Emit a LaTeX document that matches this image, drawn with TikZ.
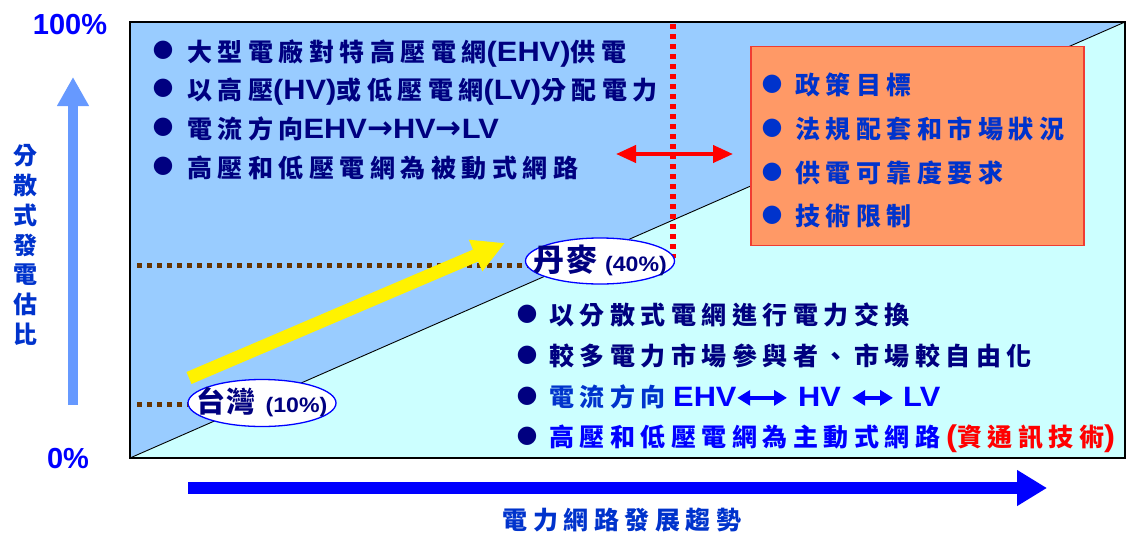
\documentclass[tikz,border=0pt]{standalone}
\usepackage{fontspec}
\usetikzlibrary{arrows.meta,shapes.geometric}
\newfontfamily\cjk{Noto Sans CJK TC}[LetterSpace=22]
\newfontfamily\cjkp{Noto Sans CJK TC}
\newfontfamily\lat{Liberation Sans}
\newfontfamily\latw{Liberation Sans}[FakeStretch=1.1]
\newfontfamily\sym{DejaVu Sans}
\newcommand\fs[1]{\fontsize{#1}{#1}\selectfont}
\definecolor{upfill}{RGB}{153,204,255}
\definecolor{lowfill}{RGB}{204,255,255}
\definecolor{orangefill}{RGB}{255,153,102}
\definecolor{orangeedge}{RGB}{240,60,50}
\definecolor{navytxt}{RGB}{0,0,128}
\definecolor{midblue}{RGB}{0,51,204}
\definecolor{pureblue}{RGB}{0,0,255}
\definecolor{axisarrow}{RGB}{102,153,255}
\definecolor{browndot}{RGB}{102,51,0}
\definecolor{redline}{RGB}{255,0,0}
\tikzset{
  bul/.style={inner sep=0pt, font=\sym\fs{24}},
  txtline/.style={anchor=base west, inner sep=0pt, font=\cjk\bfseries\fs{25}},
  lat/.style={anchor=base west, inner sep=0pt, font=\latw\bfseries\fs{28}},
  ell/.style={ellipse, draw=pureblue, line width=1.3pt, fill=white, inner sep=0pt},
  elltext/.style={inner sep=0pt, text=navytxt},
  brownline/.style={draw=browndot, line width=5pt, dash pattern=on 5pt off 5pt},
  reddots/.style={draw=redline, line width=5.5pt, dash pattern=on 5pt off 5pt},
  dblarrow/.style={draw=pureblue, line width=3.5pt, {Triangle[length=13pt,width=15pt]}-{Triangle[length=13pt,width=15pt]}},
}
\newcommand\Lt[1]{{\latw\fs{28}#1}}
\begin{document}
\begin{tikzpicture}[x=1pt,y=-1pt]
\useasboundingbox (0,0) rectangle (1134,538);
% main box
\coordinate (bl) at (130,458);
\coordinate (tl) at (130,22);
\coordinate (tr) at (1125,22);
\coordinate (br) at (1125,458);
\fill[upfill] (bl) -- (tl) -- (tr) -- cycle;
\fill[lowfill] (bl) -- (tr) -- (br) -- cycle;
\draw[black, line width=0.9pt] (bl) -- (tr);
\draw[black, line width=1.4pt] (bl) rectangle (tr);
% orange box
\node[draw=orangeedge, fill=orangefill, line width=1.2pt, minimum width=333pt, minimum height=199pt, inner sep=0pt] (ob) at (917.5,146) {};
% red dotted vertical and red double arrow
\coordinate (rdtop) at (673,24);
\coordinate (rdbot) at (673,258);
\draw[reddots] (rdtop) -- (rdbot);
\coordinate (ra) at (616,154);
\coordinate (rb) at (733,154);
\draw[redline, line width=4pt, {Triangle[length=20pt,width=17pt]}-{Triangle[length=20pt,width=17pt]}] (ra) -- (rb);
% brown dotted lines
\coordinate (bd1a) at (137,265);
\coordinate (bd1b) at (530,265);
\coordinate (bd2a) at (137,404);
\coordinate (bd2b) at (192,404);
\draw[brownline] (bd1a) -- (bd1b);
\draw[brownline] (bd2a) -- (bd2b);
% yellow arrow
\coordinate (ya) at (189,378);
\coordinate (yb) at (505,243);
\draw[yellow, line width=13pt, -{Triangle[length=32pt,width=32pt]}] (ya) -- (yb);
% ellipses
\node[ell, minimum width=149pt, minimum height=46pt] (dk) at (600,261) {};
\node[elltext] (dkt) at ([yshift=1pt]dk.center) {{\cjkp\bfseries\fs{31}丹\hspace{2pt}麥}\hspace{8pt}{\latw\bfseries\fs{21}(40\%)}};
\node[ell, minimum width=148pt, minimum height=47pt] (tw) at (262,403) {};
\node[elltext] (twt) at ([yshift=1pt]tw.center) {{\cjkp\bfseries\fs{29}台\hspace{1pt}灣}\hspace{10pt}{\latw\bfseries\fs{21}(10\%)}};
% top-left list
\node[bul, text=navytxt] (b1) at (163,50) {●};
\node[bul, text=navytxt] (b2) at (163,88) {●};
\node[bul, text=navytxt] (b3) at (163,127) {●};
\node[bul, text=navytxt] (b4) at (163,166) {●};
\node[txtline, text=navytxt] (t1) at (187,61.5) {大型電廠對特高壓電網\Lt{(EHV)}供電};
\node[txtline, text=navytxt] (t2) at (187,99.5) {以高壓\Lt{(HV)}或低壓電網\Lt{(LV)}分配電力};
\node[txtline, text=navytxt] (t3) at (187,138.5) {電流方向\Lt{EHV{\sym\fs{31}→}HV{\sym\fs{31}→}LV}};
\node[txtline, text=navytxt] (t4) at (187,177.5) {高壓和低壓電網為被動式網路};
% orange box list
\node[bul, text=midblue] (o1b) at (772,84) {●};
\node[bul, text=midblue] (o2b) at (772,128) {●};
\node[bul, text=midblue] (o3b) at (772,172) {●};
\node[bul, text=midblue] (o4b) at (772,215) {●};
\node[txtline, text=midblue] (o1) at (795,94.5) {政策目標};
\node[txtline, text=midblue] (o2) at (795,138.5) {法規配套和市場狀況};
\node[txtline, text=midblue] (o3) at (795,182.5) {供電可靠度要求};
\node[txtline, text=midblue] (o4) at (795,225.5) {技術限制};
% lower-right list
\node[bul, text=navytxt] (l1b) at (527,314) {●};
\node[bul, text=navytxt] (l2b) at (527,355) {●};
\node[bul, text=navytxt] (l3b) at (527,396) {●};
\node[bul, text=navytxt] (l4b) at (527,436) {●};
\node[txtline, text=navytxt] (l1) at (549,324.5) {以分散式電網進行電力交換};
\node[txtline, text=navytxt] (l2) at (549,365.5) {較多電力市場參與者、市場較自由化};
\node[txtline, text=midblue] (l3) at (549,406.5) {電流方向};
\node[lat, text=pureblue] (ehv) at (673,406.5) {EHV};
\node[lat, text=pureblue] (hv) at (798,406.5) {HV};
\node[lat, text=pureblue] (lv) at (903,406.5) {LV};
\draw[dblarrow] ([xshift=0.5pt,yshift=-1pt]ehv.east) -- ([xshift=-11pt,yshift=-1pt]hv.west);
\draw[dblarrow] ([xshift=11pt,yshift=-1pt]hv.east) -- ([xshift=-10pt,yshift=-1pt]lv.west);
\node[txtline, text=pureblue] (l4) at (549,446.5) {高壓和低壓電網為主動式網路\hspace{6pt}{\color{redline}{\latw\fs{30}(}資通訊技術{\latw\fs{30})}}};
% axes
\coordinate (va) at (73,405);
\coordinate (vb) at (73,77);
\draw[axisarrow, line width=10pt, -{Triangle[length=29pt,width=30pt]}] (va) -- (vb);
\coordinate (ha) at (188,488);
\coordinate (hb) at (1047,488);
\draw[pureblue, line width=12pt, -{Triangle[length=30pt,width=34pt]}] (ha) -- (hb);
\node[inner sep=0pt, font=\lat\bfseries\fs{29}, text=pureblue] (p100) at (70,25) {100\%};
\node[inner sep=0pt, font=\lat\bfseries\fs{29}, text=pureblue] (p0) at (68,459) {0\%};
\node[inner sep=0pt, align=center, font=\cjkp\bfseries\fontsize{24}{29.8}\selectfont, text=midblue] (ylab) at (25,245) {分\\散\\式\\發\\電\\估\\比};
\node[inner sep=0pt, font=\cjk\bfseries\fs{25}, text=midblue] (xlab) at (622,520) {電力網路發展趨勢};
\end{tikzpicture}
\end{document}
